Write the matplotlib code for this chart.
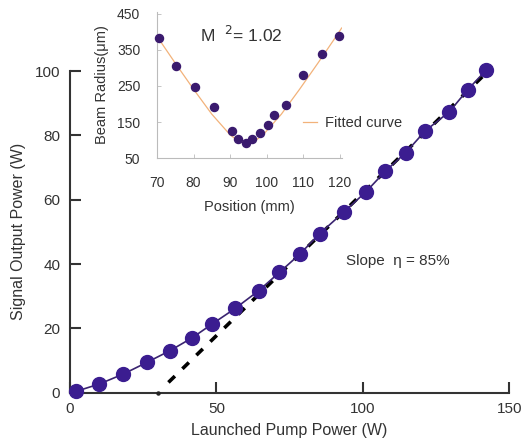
import matplotlib
matplotlib.use("Agg")
import matplotlib.pyplot as plt

plt.rcParams['font.family'] = ['Liberation Sans', 'DejaVu Sans']

# Main chart data
pump = [2.0, 10.0, 18.2, 26.2, 34.2, 41.6, 48.6, 56.4, 64.4, 71.5, 78.6, 85.2,
        93.4, 101.0, 107.7, 114.6, 121.3, 129.5, 135.8, 142.0]
signal = [0.4, 2.7, 5.8, 9.4, 13.1, 17.0, 21.4, 26.2, 31.7, 37.4, 43.2, 49.4,
          56.1, 62.4, 68.9, 74.6, 81.4, 87.3, 94.2, 100.2]

# Slope line (linear fit region)
slope_x = [33.6, 143.0]
slope_y = [3.2, 100.2]
threshold_x = [30.0]
threshold_y = [0.0]

# Inset data
pos = [70.5, 75.3, 80.3, 85.6, 90.5, 92.1, 94.3, 96.1, 98.2, 100.4, 102.0,
       105.3, 110.0, 115.0, 119.8]
radius = [383, 306, 246, 191, 125, 103, 93, 104, 121, 143, 170, 198, 279, 339, 389]

fit_x = [70, 75, 80, 85, 90, 92, 94.5, 97, 99, 104, 109, 114, 119, 120.5]
fit_y = [387, 313, 241, 172, 115, 100, 92, 100, 115, 172, 241, 313, 387, 410]

main_ticks_x = [0, 50, 100, 150]
main_ticks_y = [0, 20, 40, 60, 80, 100]
inset_ticks_x = [70, 80, 90, 100, 110, 120]
inset_ticks_y = [50, 150, 250, 350, 450]

fig = plt.figure(figsize=(5.21, 4.40), dpi=100)
ax = fig.add_axes([0.1344, 0.1075, 0.8432, 0.7311])

ax.plot(slope_x, slope_y, color='black', lw=2.6, dashes=(2.5, 2.9), zorder=3)
ax.plot(pump, signal, color='#3a2470', lw=1.2, marker='o', ms=10,
        mfc='#3b1d90', mec='#3b1d90', zorder=4, clip_on=False)
ax.plot(threshold_x, threshold_y, 'o', color='#222222', ms=2.2, zorder=5, clip_on=False)

ax.set_xlim(0, 150)
ax.set_ylim(0, 100)
ax.set_xticks(main_ticks_x)
ax.set_yticks(main_ticks_y)
for s in ['top', 'right']:
    ax.spines[s].set_visible(False)
for s in ['left', 'bottom']:
    ax.spines[s].set_linewidth(1.5)
    ax.spines[s].set_color('#333333')
ax.tick_params(direction='in', length=8, width=1.5, color='#333333',
               labelsize=11, labelcolor='#333333', pad=7)
ax.set_xlabel('Launched Pump Power (W)', fontsize=11.5, color='#333333', labelpad=5)
ax.set_ylabel('Signal Output Power (W)', fontsize=11.5, color='#333333', labelpad=6)

fig.text(346 / 521, 1 - 260.7 / 440, 'Slope  \u03b7 = 85%', fontsize=11,
         color='#333333', va='center', ha='left')

# Inset
ins = fig.add_axes([0.3013, 0.640, 0.3545, 0.3334])
ins.patch.set_alpha(0)
ins.plot(fit_x, fit_y, color='#f2b27a', lw=0.9, zorder=2, label='Fitted curve')
ins.plot(pos, radius, 'o', ms=5.8, color='#3a1a6e', zorder=3, clip_on=False)
ins.set_xlim(70, 120.5)
ins.set_ylim(50, 455)
ins.set_xticks(inset_ticks_x)
ins.set_yticks(inset_ticks_y)
for s in ['top', 'right']:
    ins.spines[s].set_visible(False)
for s in ['left', 'bottom']:
    ins.spines[s].set_linewidth(0.8)
    ins.spines[s].set_color('#bbbbbb')
ins.tick_params(direction='in', length=3, width=0.6, color='#bbbbbb',
                labelsize=10, labelcolor='#333333')
ins.tick_params(axis='x', pad=13)
ins.tick_params(axis='y', pad=12)
ins.set_xlabel('Position (mm)', fontsize=10.5, color='#333333', labelpad=7)
ins.set_ylabel('Beam Radius(\u03bcm)', fontsize=10.5, color='#333333', labelpad=6)
ins.legend(loc='lower right', bbox_to_anchor=(1.4, 0.105), frameon=False,
           fontsize=10.5, handlelength=0.9, handletextpad=0.6,
           labelcolor='#333333')
ins.text(0.233, 0.84, r'M  $^{2}$= 1.02', transform=ins.transAxes, fontsize=12.5,
         color='#333333', va='center', ha='left')

fig.savefig('out.png', dpi=100)
